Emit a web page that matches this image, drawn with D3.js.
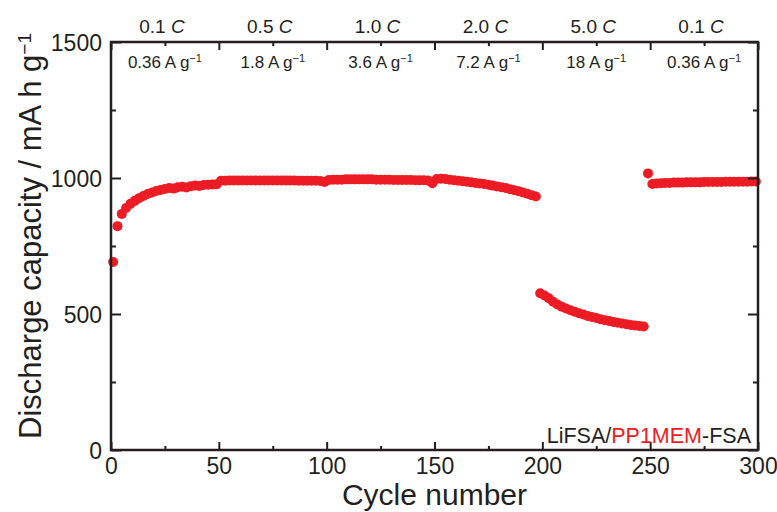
<!DOCTYPE html>
<html><head><meta charset="utf-8">
<script src="https://cdn.jsdelivr.net/npm/d3@7"></script>
<style>body{margin:0;background:#fff}svg text{font-family:"Liberation Sans",Arial,sans-serif;fill:#231f20}</style>
</head><body>
<svg id="c" width="777" height="512"></svg>
<script>
// Data: discharge capacity (mA h g^-1), one point every 2 cycles
const seg1Start = 1;   // 0.1 C
const seg1 = [691,823,868,890,905,916,926,934,941,947,952,956,960,963,961,966,968,965,970,972,971,974,975,976,977];
const seg2Start = 51;  // 0.5 C
const seg2 = [990,990,991,991,991,991,991,991,991,991,991,991,991,991,991,991,991,991,990,990,990,990,990,989,985];
const seg3Start = 101; // 1.0 C
const seg3 = [993,994,994,994,995,995,995,995,995,995,995,994,994,994,994,993,993,993,993,993,992,992,992,991,981];
const seg4Start = 151; // 2.0 C
const seg4 = [996,997,996,994,992,990,988,986,984,982,980,978,975,972,969,966,963,959,955,951,947,942,937,932];
const seg5Start = 199; // 5.0 C
const seg5 = [576,568,558,545,535,527,520,514,508,503,498,493,489,485,481,477,474,471,468,465,462,460,458,456,454];
const seg6Start = 249; // 0.1 C
const seg6 = [1017,978,980,981,982,982,983,983,983,984,984,984,984,985,985,985,985,985,986,986,986,986,986,986,987,987];

const rateLabels = ["0.1","0.5","1.0","2.0","5.0","0.1"];
const currentLabels = ["0.36","1.8","3.6","7.2","18","0.36"];
const rateCenters = [25,75,125,175,225,275];
const xTicks = [0,50,100,150,200,250,300];
const yTicks = [0,500,1000,1500];

(function(){
const segments = [[seg1Start,seg1],[seg2Start,seg2],[seg3Start,seg3],[seg4Start,seg4],[seg5Start,seg5],[seg6Start,seg6]];
const points = [];
segments.forEach(([s,vals]) => vals.forEach((v,i) => points.push({cycle: s + 2*i, cap: v})));

const svg = d3.select("#c");
const L = 111, R = 758, T = 42, B = 450;
const x = d3.scaleLinear().domain([0,300]).range([L,R]);
const y = d3.scaleLinear().domain([0,1500]).range([B,T]);
const ink = "#231f20", red = "#ed1c24";

// points
svg.append("g").selectAll("circle").data(points).join("circle")
  .attr("cx", d => x(d.cycle)).attr("cy", d => y(d.cap)).attr("r", 5).attr("fill", red);

// axes
const minorX = d3.range(25,300,50);
const minorY = d3.range(250,1500,500);
function ax(gen, tr) { return svg.append("g").attr("transform", tr).call(gen); }
ax(d3.axisBottom(x).tickValues(xTicks).tickSize(-8).tickPadding(8).tickFormat(d3.format("d")), `translate(0,${B})`);
ax(d3.axisBottom(x).tickValues(minorX).tickSize(-4).tickFormat(""), `translate(0,${B})`);
ax(d3.axisTop(x).tickValues(xTicks).tickSize(-8).tickFormat(""), `translate(0,${T})`);
ax(d3.axisTop(x).tickValues(minorX).tickSize(-4).tickFormat(""), `translate(0,${T})`);
const leftAx = ax(d3.axisLeft(y).tickValues(yTicks).tickSize(-10).tickPadding(9).tickFormat(d3.format("d")), `translate(${L},0)`);
ax(d3.axisLeft(y).tickValues(minorY).tickSize(-5).tickFormat(""), `translate(${L},0)`);
ax(d3.axisRight(y).tickValues(yTicks).tickSize(-10).tickFormat(""), `translate(${R},0)`);
ax(d3.axisRight(y).tickValues(minorY).tickSize(-5).tickFormat(""), `translate(${R},0)`);
svg.selectAll(".domain").remove();
svg.selectAll(".tick line").attr("stroke", ink).attr("stroke-width", 2);
svg.selectAll(".tick text").attr("font-size", 23).attr("fill", ink).style("font-family","Liberation Sans, Arial, sans-serif");
leftAx.selectAll(".tick text").attr("dy", "0.36em");
svg.append("rect").attr("x", L).attr("y", T).attr("width", R-L).attr("height", B-T)
  .attr("fill", "none").attr("stroke", ink).attr("stroke-width", 2.5);

// axis titles
svg.append("text").attr("x", (L+R)/2).attr("y", 505).attr("text-anchor","middle").attr("font-size", 30).text("Cycle number");
svg.append("text").attr("transform", `translate(41,236) rotate(-90)`).attr("text-anchor","middle").attr("font-size", 31)
  .html('Discharge capacity / mA h g<tspan baseline-shift="super" font-size="19">−1</tspan>');

// rate labels
rateCenters.forEach((c,i) => {
  svg.append("text").attr("x", x(c) - 3).attr("y", 33).attr("text-anchor","middle").attr("font-size", 19)
    .html(`${rateLabels[i]} <tspan font-style="italic">C</tspan>`);
  svg.append("text").attr("x", x(c)).attr("y", 68).attr("text-anchor","middle").attr("font-size", 17)
    .html(`${currentLabels[i]} A g<tspan baseline-shift="super" font-size="11">−1</tspan>`);
});

// legend
svg.append("text").attr("x", 751).attr("y", 443).attr("text-anchor","end").attr("font-size", 21.5)
  .html(`LiFSA/<tspan fill="${red}" style="fill:${red}">PP1MEM</tspan>-FSA`);
})();
</script>
</body></html>
